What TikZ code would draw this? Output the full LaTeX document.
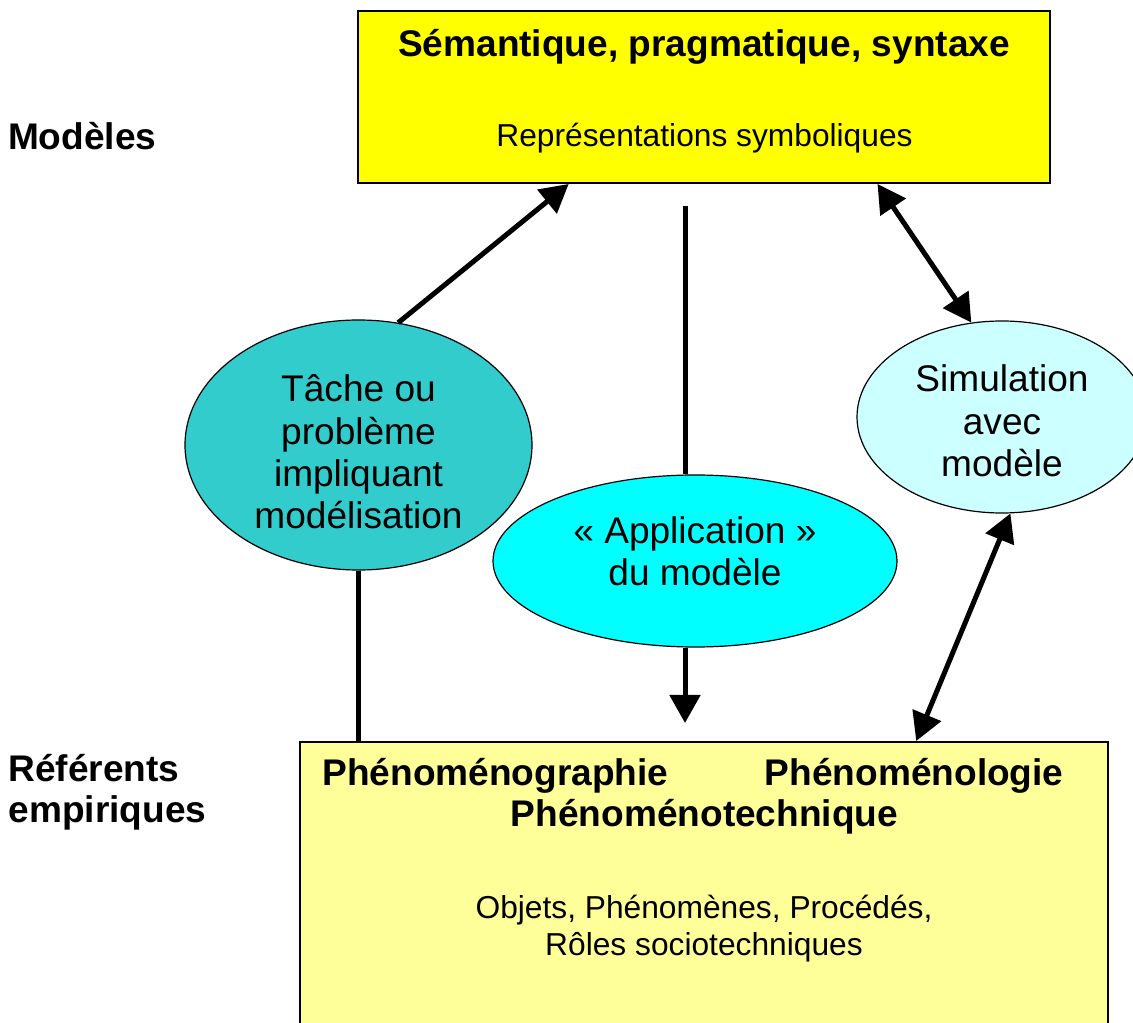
\documentclass[tikz,border=0pt]{standalone}
\usepackage{fontspec}
\setmainfont{Liberation Sans}
\usetikzlibrary{arrows.meta,shapes.geometric,calc}

\definecolor{symbyellow}{RGB}{255,255,0}
\definecolor{phenyellow}{RGB}{255,255,153}
\definecolor{tachecol}{RGB}{51,204,204}
\definecolor{applicol}{RGB}{0,255,255}
\definecolor{simcol}{RGB}{204,255,255}

\tikzset{every picture/.style={line width=0.75pt}}
\tikzset{
  bigtxt/.style={font=\fontsize{27.8pt}{31.8pt}\selectfont},
  boldtxt/.style={font=\fontsize{27.8pt}{31.5pt}\selectfont\bfseries},
  smalltxt/.style={font=\fontsize{23.8pt}{27.75pt}\selectfont},
  txtnode/.style={inner sep=0pt},
  boxnode/.style={draw, rectangle, line width=1.5pt, inner sep=0pt},
  ellnode/.style={draw, ellipse, line width=0.9pt, inner sep=0pt},
  link/.style={line width=3.75pt},
  arrowlink/.style={link, -{Triangle[length=21pt,width=22.5pt]}},
  dblink/.style={link, {Triangle[length=21pt,width=22.5pt]}-{Triangle[length=21pt,width=22.5pt]}}
}

\begin{document}
\begin{tikzpicture}[x=0.75pt,y=0.75pt,yscale=-1]
\useasboundingbox (0,0) rectangle (1133,1023);
\clip (0,0) rectangle (1133,1023);

%Shape: Rectangle
\node[boxnode, fill=symbyellow, minimum width=519pt, minimum height=129pt] (symb) at (704,97) {};
%Shape: Rectangle
\node[boxnode, fill=phenyellow, anchor=north, minimum width=606pt, minimum height=240pt] (phen) at (704,741) {};

%Shape: Ellipse
\node[ellnode, fill=tachecol, minimum width=260.25pt, minimum height=187.5pt] (tache) at (358.5,445) {};
%Shape: Ellipse
\node[ellnode, fill=applicol, minimum width=303pt, minimum height=129pt] (appli) at (695,561) {};
%Shape: Ellipse
\node[ellnode, fill=simcol, minimum width=217.5pt, minimum height=144pt] (sim) at (1002,417) {};

% Text Node
\node[txtnode, boldtxt, anchor=base west] (modeles) at (7.5,150) {Modèles};
% Text Node
\node[txtnode, boldtxt, anchor=base west] (refA) at (8,782) {Référents};
% Text Node
\node[txtnode, boldtxt, anchor=base west] (refB) at (8,822) {empiriques};
% Text Node
\node[txtnode, boldtxt, anchor=base] (semtitle) at (704,57) {Sémantique, pragmatique, syntaxe};
% Text Node
\node[txtnode, smalltxt, anchor=base] (symbtxt) at (704.5,147) {Représentations symboliques};
% Text Node
\node[txtnode, bigtxt, align=center] (tachetxt) at (358.5,452) {Tâche ou\\problème\\impliquant\\modélisation};
% Text Node
\node[txtnode, bigtxt, align=center] (applitxt) at (695,551) {« Application »\\du modèle};
% Text Node
\node[txtnode, bigtxt, align=center] (simtxt) at (1002,421) {Simulation\\avec\\modèle};
% Text Node
\node[txtnode, boldtxt, anchor=base west] (graphie) at (322,785) {Phénoménographie};
% Text Node
\node[txtnode, boldtxt, anchor=base east] (logie) at (1064,785) {Phénoménologie};
% Text Node
\node[txtnode, boldtxt, anchor=base] (technique) at (704.5,826) {Phénoménotechnique};
% Text Node
\node[txtnode, smalltxt, anchor=base] (objets) at (704,918) {Objets, Phénomènes, Procédés,};
% Text Node
\node[txtnode, smalltxt, anchor=base] (roles) at (704,955) {Rôles sociotechniques};

\coordinate (vtop) at (685,206);
\coordinate (vtip) at (685,723);

%Straight Lines
\draw[link] (vtop) -- (vtop |- appli.north);
%Straight Lines
\draw[arrowlink] (vtip |- appli.south) -- (vtip);
%Straight Lines
\draw[link] (tache.south) -- (tache.south |- phen.north);
%Straight Lines
\draw[arrowlink] (tache.72) -- ($(symb.south west)!0.305!(symb.south east)$);
%Straight Lines
\draw[dblink] ($(symb.south west)!0.75!(symb.south east)$) -- (sim.108);
%Straight Lines
\draw[dblink] (sim.-85) -- ($(phen.north west)!0.762!(phen.north east)$);

\end{tikzpicture}
\end{document}
